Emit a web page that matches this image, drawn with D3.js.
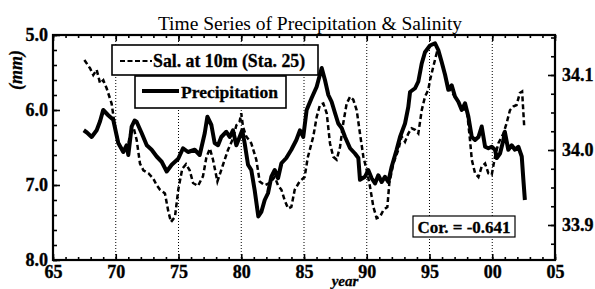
<!DOCTYPE html>
<html><head><meta charset="utf-8">
<script src="https://cdn.jsdelivr.net/npm/d3@7/dist/d3.min.js"></script>
<style>
body{margin:0;background:#fff;}
svg{display:block;font-family:"Liberation Serif","Times New Roman",serif;}
.tk text{font-family:"Liberation Serif","Times New Roman",serif;font-weight:bold;font-size:18px;fill:#000;stroke:#000;stroke-width:0.35px;}
.heavy{stroke:#000;stroke-width:0.3px;}
</style></head><body>
<svg id="c" width="595" height="289"></svg>
<script>
const title = "Time Series of Precipitation & Salinity";
const xTicks = [1965,1970,1975,1980,1985,1990,1995,2000,2005];
const xTickLabels = ["65","70","75","80","85","90","95","00","05"];
const leftTicks = [5.0,6.0,7.0,8.0];
const leftTickLabels = ["5.0","6.0","7.0","8.0"];
const rightTicks = [33.9,34.0,34.1];
const rightTickLabels = ["33.9","34.0","34.1"];
const gridYears = [1970,1975,1980,1985,1990,1995,2000];
const legendLabels = ["Sal. at 10m (Sta. 25)","Precipitation"];
const corText = "Cor. = -0.641";

// precipitation (mm, left axis, reversed)
const precipitation = [
[1967.45,6.27],[1967.7,6.3],[1968.08,6.36],[1968.48,6.27],[1968.75,6.15],[1969.0,6.0],[1969.4,6.07],[1969.8,6.13],
[1970.2,6.44],[1970.6,6.56],[1970.87,6.47],[1971.0,6.6],[1971.27,6.22],[1971.5,6.14],[1971.67,6.16],[1972.07,6.31],
[1972.47,6.47],[1972.86,6.53],[1973.26,6.62],[1973.66,6.69],[1974.06,6.82],[1974.46,6.73],[1974.98,6.65],[1975.36,6.51],
[1975.76,6.56],[1976.29,6.53],[1976.69,6.6],[1977.09,6.31],[1977.3,6.09],[1977.62,6.2],[1977.88,6.44],[1978.15,6.47],
[1978.41,6.36],[1978.81,6.29],[1979.08,6.36],[1979.34,6.27],[1979.61,6.47],[1979.87,6.36],[1980.08,6.27],[1980.27,6.44],
[1980.54,6.73],[1980.8,6.8],[1981.07,7.07],[1981.36,7.42],[1981.6,7.36],[1981.87,7.2],[1982.13,7.11],[1982.4,6.89],
[1982.67,6.8],[1982.93,6.91],[1983.2,6.71],[1983.59,6.64],[1983.99,6.53],[1984.39,6.4],[1984.68,6.27],[1984.94,6.36],
[1985.21,6.0],[1985.61,5.84],[1986.01,5.69],[1986.41,5.44],[1986.67,5.6],[1986.94,5.8],[1987.2,5.89],[1987.47,6.04],
[1987.73,6.18],[1988.0,6.24],[1988.27,6.36],[1988.67,6.51],[1989.06,6.58],[1989.33,6.64],[1989.46,6.93],[1989.86,6.89],
[1990.12,6.8],[1990.39,6.91],[1990.66,6.98],[1990.92,6.87],[1991.19,6.96],[1991.45,6.89],[1991.72,6.96],[1991.98,6.76],
[1992.38,6.53],[1992.65,6.36],[1993.05,6.18],[1993.31,5.96],[1993.45,5.76],[1993.85,5.71],[1994.11,5.62],[1994.38,5.38],
[1994.64,5.23],[1995.04,5.14],[1995.44,5.11],[1995.7,5.2],[1995.97,5.36],[1996.24,5.53],[1996.5,5.73],[1996.77,5.67],
[1997.03,5.82],[1997.3,5.89],[1997.57,6.0],[1997.83,5.91],[1998.1,6.09],[1998.37,6.36],[1998.63,6.4],[1998.9,6.36],
[1999.16,6.22],[1999.43,6.49],[1999.69,6.51],[1999.96,6.49],[2000.22,6.53],[2000.36,6.64],[2000.62,6.58],[2000.89,6.4],
[2001.0,6.29],[2001.28,6.53],[2001.55,6.47],[2001.81,6.53],[2002.08,6.49],[2002.35,6.62],[2002.48,6.93],[2002.6,7.2]
];

// salinity at 10m, Sta. 25 (right axis)
const salinity = [
[1967.5,34.12],[1967.95,34.109],[1968.21,34.1],[1968.48,34.107],[1968.75,34.089],[1969.01,34.093],[1969.28,34.082],[1969.67,34.062],
[1969.94,34.031],[1970.2,34.01],[1970.6,33.998],[1970.9,34.0],[1971.2,34.025],[1971.45,34.028],[1971.67,34.013],[1971.93,33.982],
[1972.2,33.973],[1972.6,33.969],[1972.99,33.962],[1973.26,33.953],[1973.53,33.947],[1973.92,33.942],[1974.19,33.918],[1974.4,33.904],
[1974.72,33.911],[1974.98,33.947],[1975.3,33.975],[1975.6,33.981],[1975.89,33.973],[1976.16,33.956],[1976.55,33.952],[1976.95,33.965],
[1977.22,33.99],[1977.5,34.002],[1977.75,33.987],[1978.1,33.958],[1978.5,33.978],[1978.94,34.0],[1979.34,34.015],[1979.61,34.033],
[1979.87,34.038],[1980.0,34.049],[1980.14,34.031],[1980.4,34.018],[1980.8,34.009],[1981.2,33.987],[1981.47,33.958],[1981.87,33.953],
[1982.27,33.956],[1982.67,33.964],[1982.93,33.953],[1983.2,33.947],[1983.46,33.933],[1983.73,33.922],[1983.99,33.924],[1984.26,33.947],
[1984.65,33.958],[1985.05,33.964],[1985.3,33.99],[1985.74,34.018],[1986.01,34.044],[1986.27,34.06],[1986.54,34.062],[1986.81,34.049],
[1987.07,34.009],[1987.33,33.991],[1987.6,33.987],[1987.87,34.004],[1988.13,34.036],[1988.4,34.062],[1988.67,34.071],[1988.93,34.067],
[1989.2,34.053],[1989.46,34.022],[1989.73,33.991],[1990.0,33.973],[1990.26,33.951],[1990.53,33.924],[1990.79,33.909],[1991.06,33.911],
[1991.33,33.92],[1991.64,33.924],[1991.8,33.956],[1992.12,33.982],[1992.51,34.0],[1992.78,34.018],[1993.05,34.011],[1993.31,34.022],
[1993.58,34.029],[1993.85,34.027],[1994.11,34.022],[1994.38,34.053],[1994.64,34.071],[1994.9,34.08],[1995.04,34.093],[1995.3,34.111],
[1995.57,34.129],[1995.84,34.124],[1996.1,34.11],[1996.5,34.083],[1997.0,34.072],[1997.5,34.058],[1998.0,34.05],[1998.23,34.013],
[1998.37,33.987],[1998.63,33.969],[1998.9,33.964],[1999.16,33.978],[1999.43,33.982],[1999.69,33.969],[1999.96,33.967],[2000.22,33.991],
[2000.49,34.009],[2000.89,34.022],[2001.15,34.036],[2001.41,34.053],[2001.67,34.058],[2001.94,34.06],[2002.2,34.076],[2002.38,34.078],
[2002.54,34.033]
];

const L=53, R=555, T=35, B=260;
const svg = d3.select("#c");
const x = d3.scaleLinear().domain([1965,2005]).range([L,R]);
const yP = d3.scaleLinear().domain([5,8]).range([T,B]);
const yS = d3.scaleLinear().domain([34.1,33.9]).range([75,225]);

// grid
svg.append("g").selectAll("line").data(gridYears).join("line")
  .attr("x1",d=>x(d)).attr("x2",d=>x(d)).attr("y1",T).attr("y2",B)
  .attr("stroke","#000").attr("stroke-width",1).attr("stroke-dasharray","1,2");

// series
const lineP = d3.line().x(d=>x(d[0])).y(d=>yP(d[1]));
const lineS = d3.line().x(d=>x(d[0])).y(d=>yS(d[1]));
svg.append("path").attr("d",lineS(salinity)).attr("fill","none").attr("stroke","#000")
  .attr("stroke-width",2.5).attr("stroke-dasharray","5,3");
svg.append("path").attr("d",lineP(precipitation)).attr("fill","none").attr("stroke","#000")
  .attr("stroke-width",4).attr("stroke-linejoin","round");

// axes (ticks inward)
const minorX = d3.range(1965,2006,1);
const mk = (axis, tr) => {
  const g = svg.append("g").attr("class","tk").attr("transform",tr).call(axis);
  g.select(".domain").remove();
  g.attr("font-family",null).attr("font-size",null);
  g.selectAll("line").attr("stroke","#000").attr("stroke-width",1.6);
  return g;
};
mk(d3.axisBottom(x).tickValues(minorX).tickSize(-3).tickFormat(""), `translate(0,${B})`);
mk(d3.axisBottom(x).tickValues(xTicks).tickSize(-6).tickPadding(5).tickFormat((d,i)=>xTickLabels[i]), `translate(0,${B})`);
mk(d3.axisTop(x).tickValues(minorX).tickSize(-3).tickFormat(""), `translate(0,${T})`);
mk(d3.axisTop(x).tickValues(xTicks).tickSize(-6).tickFormat(""), `translate(0,${T})`);
mk(d3.axisLeft(yP).tickValues(d3.range(5,8.01,0.2)).tickSize(-4).tickFormat(""), `translate(${L},0)`);
mk(d3.axisLeft(yP).tickValues(leftTicks).tickSize(-7).tickPadding(5).tickFormat((d,i)=>leftTickLabels[i]), `translate(${L},0)`);
mk(d3.axisRight(yS).tickValues(d3.range(33.875,34.151,0.025)).tickSize(-4).tickFormat(""), `translate(${R},0)`);
mk(d3.axisRight(yS).tickValues(rightTicks).tickSize(-7).tickPadding(7).tickFormat((d,i)=>rightTickLabels[i]), `translate(${R},0)`);

// frame
svg.append("rect").attr("x",L).attr("y",T).attr("width",R-L).attr("height",B-T)
  .attr("fill","none").attr("stroke","#000").attr("stroke-width",2.2);

// title
svg.append("text").attr("x",310).attr("y",30).attr("text-anchor","middle")
  .style("font-size","19.5px").text(title);

// axis titles
svg.append("text").attr("class","heavy").attr("transform","translate(22,70) rotate(-90)").attr("text-anchor","middle")
  .style("font-size","18px").style("font-weight","bold").style("font-style","italic").text("(mm)");
svg.append("text").attr("class","heavy").attr("x",345).attr("y",286).attr("text-anchor","middle")
  .style("font-size","15px").style("font-weight","bold").style("font-style","italic").text("year");

// legend
const lg = svg.append("g");
lg.append("rect").attr("x",112).attr("y",45).attr("width",206).attr("height",30)
  .attr("fill","#fff").attr("stroke","#000").attr("stroke-width",1.6);
lg.append("line").attr("x1",120).attr("x2",152).attr("y1",61).attr("y2",61)
  .attr("stroke","#000").attr("stroke-width",2.2).attr("stroke-dasharray","5,2.5");
lg.append("text").attr("class","heavy").attr("x",153).attr("y",67).style("font-size","17.8px").style("font-weight","bold").text(legendLabels[0]);
lg.append("rect").attr("x",135).attr("y",76).attr("width",151).attr("height",32)
  .attr("fill","#fff").attr("stroke","#000").attr("stroke-width",1.6);
lg.append("line").attr("x1",142).attr("x2",179).attr("y1",91).attr("y2",91)
  .attr("stroke","#000").attr("stroke-width",4);
lg.append("text").attr("class","heavy").attr("x",181).attr("y",98).style("font-size","17.5px").style("font-weight","bold").text(legendLabels[1]);

// correlation box
svg.append("rect").attr("x",413).attr("y",216).attr("width",102).attr("height",21)
  .attr("fill","#fff").attr("stroke","#000").attr("stroke-width",1.2);
svg.append("text").attr("class","heavy").attr("x",464).attr("y",233).attr("text-anchor","middle")
  .style("font-size","17px").style("font-weight","bold").text(corText);
</script>
</body></html>
